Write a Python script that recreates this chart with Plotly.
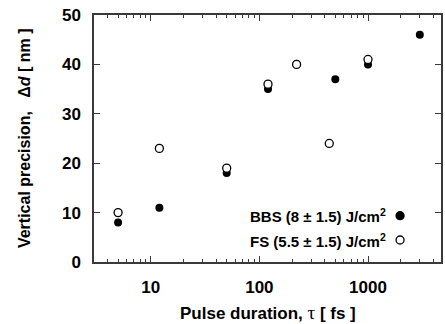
import plotly.graph_objects as go
import numpy as np

# Data
bbs_tau = [5, 12, 50, 120, 500, 1000, 3000]
bbs_dd = [8, 11, 18, 35, 37, 40, 46]
fs_tau = [5, 12, 50, 120, 220, 440, 1000]
fs_dd = [10, 23, 19, 36, 40, 24, 41]

x_ticks = [10, 100, 1000]
y_ticks = [0, 10, 20, 30, 40, 50]
minor_vals = [m * d for d in [1, 10, 100, 1000] for m in range(2, 10)]

FONT = "Liberation Sans, Arial, sans-serif"
AX = "#3a3a3a"

fig = go.Figure()
fig.add_trace(go.Scatter(x=bbs_tau, y=bbs_dd, mode="markers",
                         marker=dict(symbol="circle", size=8, color="black"),
                         showlegend=False))
fig.add_trace(go.Scatter(x=fs_tau, y=fs_dd, mode="markers",
                         marker=dict(symbol="circle", size=8, color="white",
                                     line=dict(color="black", width=1.3)),
                         showlegend=False))

fig.update_layout(
    width=445, height=324,
    margin=dict(l=94, r=2, t=15, b=62),
    paper_bgcolor="white", plot_bgcolor="white",
    font=dict(family=FONT, color="black"),
    xaxis=dict(type="log", range=[np.log10(3), np.log10(4700)],
               tickvals=x_ticks, ticktext=[str(v) for v in x_ticks],
               ticks="inside", ticklen=6, tickwidth=1.2, tickcolor=AX,
               showline=True, linecolor=AX, linewidth=1.5, mirror="ticks",
               showgrid=False, zeroline=False,
               tickfont=dict(size=17, family=FONT, weight="bold"),
               ticklabelstandoff=9,
               minor=dict(tickvals=minor_vals, ticks="inside", ticklen=3,
                          tickcolor=AX, tickwidth=1, showgrid=False)),
    yaxis=dict(range=[0, 50], tickvals=y_ticks,
               ticks="inside", ticklen=6, tickwidth=1.2, tickcolor=AX,
               showline=True, linecolor=AX, linewidth=1.5, mirror="ticks",
               showgrid=False, zeroline=False,
               tickfont=dict(size=17, family=FONT, weight="bold"),
               ticklabelstandoff=8),
)

# Axis titles
fig.add_annotation(xref="paper", yref="paper", x=0.5, y=-0.205,
                   xanchor="center", yanchor="middle", showarrow=False,
                   text="Pulse duration, <span style='font-family:Liberation Serif;font-weight:normal;font-size:19px'>τ</span> [ fs ]",
                   font=dict(size=17, family=FONT, weight="bold"))
fig.add_annotation(xref="paper", yref="paper", x=-0.2, y=0.5,
                   xanchor="center", yanchor="middle", showarrow=False, textangle=-90,
                   text="Vertical precision,   Δ<i>d</i> [ nm ]",
                   font=dict(size=16, family=FONT, weight="bold"))

# Legend (text + symbol on the right)
leg = [("BBS (8 ± 1.5) J/cm<sup>2</sup>", 0.1875, "black"),
       ("FS (5.5 ± 1.5) J/cm<sup>2</sup>", 0.089, "white")]
for txt, yy, fill in leg:
    fig.add_annotation(xref="paper", yref="paper", x=0.847, y=yy,
                       xanchor="right", yanchor="middle", showarrow=False,
                       text=txt, font=dict(size=15, family=FONT, weight="bold"))
    fig.add_shape(type="circle", xref="paper", yref="paper",
                  xsizemode="pixel", ysizemode="pixel",
                  xanchor=0.882, yanchor=yy, x0=-4, x1=4, y0=-4, y1=4,
                  fillcolor=fill, line=dict(color="black", width=1.3))

fig.write_html("out.html")
